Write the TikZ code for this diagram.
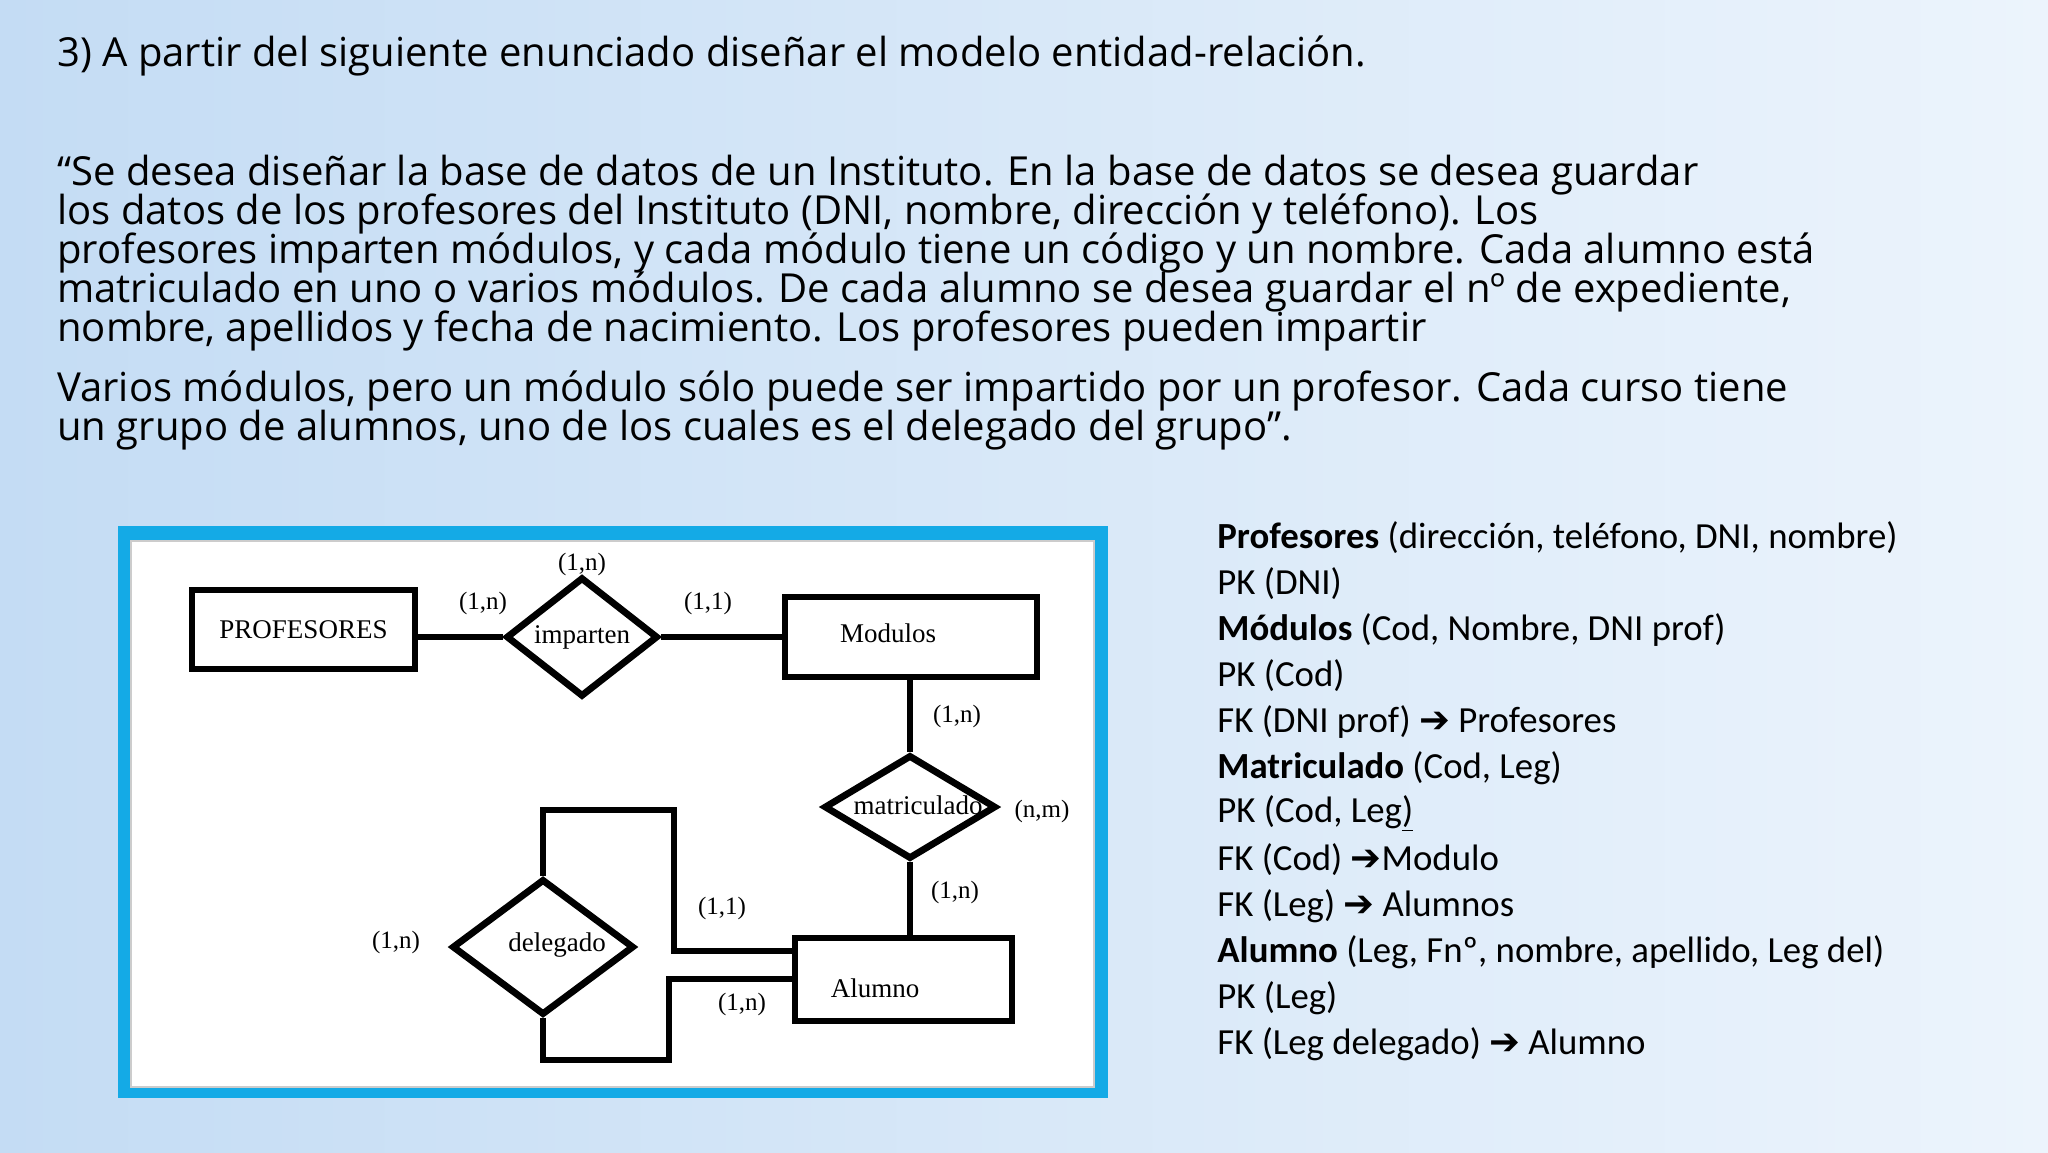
\documentclass[tikz,border=0pt]{standalone}
\usepackage{fontspec}
\setmainfont{Open Sans}
\newfontfamily\calfont{Carlito}
\newfontfamily\tmsfont{Liberation Serif}
\newfontfamily\djfont{DejaVu Sans}
\usetikzlibrary{shapes.geometric}
\definecolor{bgl}{RGB}{196,220,244}
\definecolor{bgr}{RGB}{236,244,252}
\definecolor{frm}{RGB}{20,170,230}
\begin{document}
\begin{tikzpicture}[x=0.5pt,y=-0.5pt,
  ent/.style={draw,line width=3.4pt,inner sep=0pt,font=\tmsfont\fontsize{13.5}{15}\selectfont},
  rel/.style={draw,line width=3.4pt,diamond,inner sep=0pt,font=\tmsfont\fontsize{13.5}{15}\selectfont},
  card/.style={font=\tmsfont\fontsize{12.5}{14}\selectfont,inner sep=0pt},
  lbl/.style={font=\tmsfont\fontsize{13.5}{15}\selectfont,inner sep=0pt},
  ln/.style={line width=3.4pt},
  para/.style={anchor=base west,inner sep=0pt,font=\fontsize{20}{22}\selectfont},
  lst/.style={anchor=west,inner sep=0pt,font=\calfont\fontsize{18.4}{21}\selectfont}]
\useasboundingbox (0,0) rectangle (2048,1152);
\shade[left color=bgl,right color=bgr] (0,0) rectangle (2048,1152);
% texts
\node[para] (t0) at (57,66) {3) A partir del siguiente enunciado diseñar el modelo entidad-relación.};
\node[para] (p1) at (57,185) {“Se desea diseñar la base de datos de un Instituto. En la base de datos se desea guardar};
\node[para] (p2) at (57,224) {los datos de los profesores del Instituto (DNI, nombre, dirección y teléfono). Los};
\node[para] (p3) at (57,263) {profesores imparten módulos, y cada módulo tiene un código y un nombre. Cada alumno está};
\node[para] (p4) at (57,302) {matriculado en uno o varios módulos. De cada alumno se desea guardar el nº de expediente,};
\node[para] (p5) at (57,341) {nombre, apellidos y fecha de nacimiento. Los profesores pueden impartir};
\node[para] (p6) at (57,401) {Varios módulos, pero un módulo sólo puede ser impartido por un profesor. Cada curso tiene};
\node[para] (p7) at (57,440) {un grupo de alumnos, uno de los cuales es el delegado del grupo”.};
% list
\node[lst] (l1) at (1217,538) {\textbf{Profesores} (dirección, teléfono, DNI, nombre)};
\node[lst] (l2) at (1217,584) {PK (DNI)};
\node[lst] (l3) at (1217,630) {\textbf{Módulos} (Cod, Nombre, DNI prof)};
\node[lst] (l4) at (1217,676) {PK (Cod)};
\node[lst] (l5) at (1217,722) {FK (DNI prof) {\djfont\bfseries ➔} Profesores};
\node[lst] (l6) at (1217,768) {\textbf{Matriculado} (Cod, Leg)};
\node[lst] (l7) at (1217,814) {PK (Cod, Leg\underline{)}};
\node[lst] (l8) at (1217,860) {FK (Cod) {\djfont\bfseries ➔}Modulo};
\node[lst] (l9) at (1217,906) {FK (Leg) {\djfont\bfseries ➔} Alumnos};
\node[lst] (l10) at (1217,952) {\textbf{Alumno} (Leg, Fnº, nombre, apellido, Leg del)};
\node[lst] (l11) at (1217,998) {PK (Leg)};
\node[lst] (l12) at (1217,1044) {FK (Leg delegado) {\djfont\bfseries ➔} Alumno};
% frame
\fill[frm] (118,526) rectangle (1108,1098);
\fill[white] (131,541) rectangle (1094,1087);
\draw[gray!40,line width=1pt] (131,541) rectangle (1094,1087);
% entities
\node[ent,minimum width=111.5pt,minimum height=39.5pt] (prof) at (303.5,629.5) {PROFESORES};
\node[ent,minimum width=126pt,minimum height=40pt] (mod) at (911,637) {};
\node[lbl] (modt) at (888,633) {Modulos};
\node[ent,minimum width=108.5pt,minimum height=41.5pt] (alu) at (903.5,979.5) {};
\node[lbl] (alut) at (875,988) {Alumno};
\node[rel,minimum width=76pt,minimum height=52pt] (imp) at (582,637) {imparten};
\node[rel,minimum width=86pt,minimum height=52pt] (mat) at (910,807) {};
\node[lbl] (matt) at (918,805) {matriculado};
\node[rel,minimum width=91pt,minimum height=68pt] (del) at (543,947) {};
\node[lbl] (delt) at (557,945) {delegado};
% connectors
\draw[ln] (prof.east |- imp.west) -- (imp.west);
\draw[ln] (imp.east) -- (mod.west |- imp.east);
\draw[ln] (mod.south -| mat.north) -- (mat.north);
\draw[ln] (mat.south) -- (alu.north -| mat.south);
\coordinate (a1) at (795,951);
\coordinate (a2) at (795,979);
\draw[ln] (del.north) |- (674,810) |- (a1);
\draw[ln] (del.south) |- (669,1060) |- (a2);
% cardinalities
\node[card] (c1) at (582,564) {(1,n)};
\node[card] (c2) at (483,603) {(1,n)};
\node[card] (c3) at (708,603) {(1,1)};
\node[card] (c4) at (957,716) {(1,n)};
\node[card] (c5) at (1042,811) {(n,m)};
\node[card] (c6) at (955,892) {(1,n)};
\node[card] (c7) at (722,908) {(1,1)};
\node[card] (c8) at (396,942) {(1,n)};
\node[card] (c9) at (742,1004) {(1,n)};
\end{tikzpicture}
\end{document}
